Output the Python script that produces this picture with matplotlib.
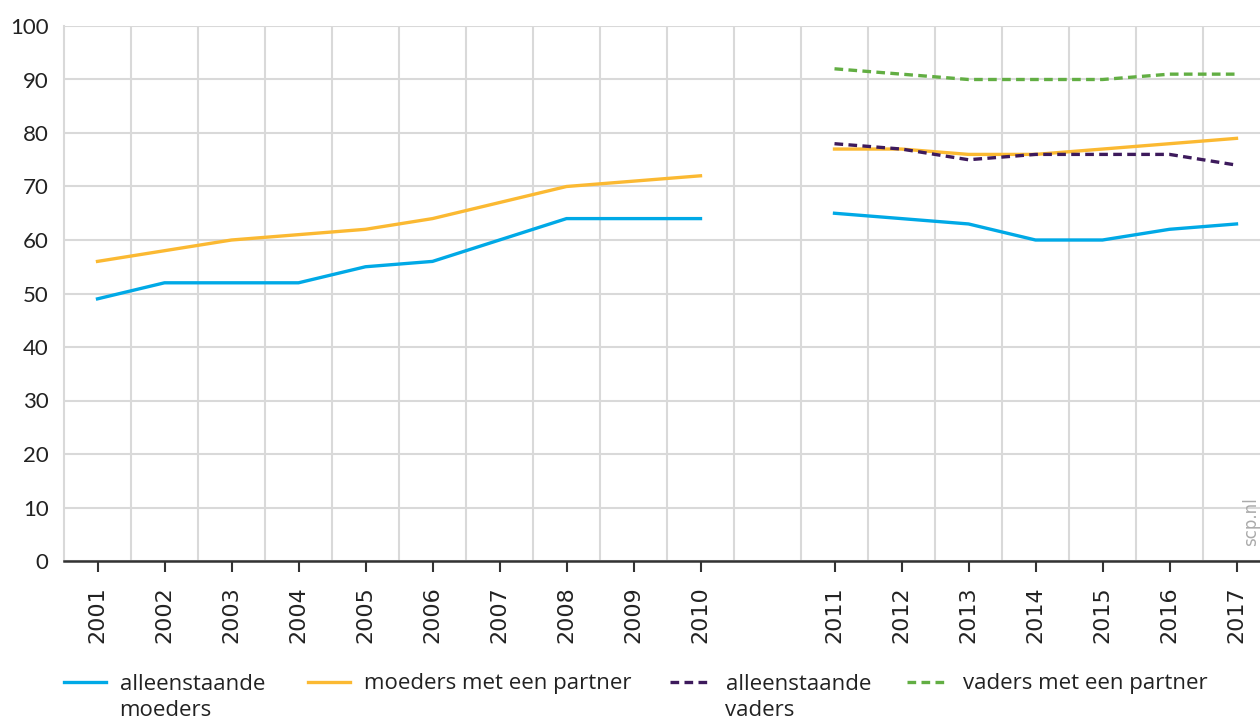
import matplotlib.pyplot as plt
import numpy as np
from matplotlib.lines import Line2D

# data
years_a = [2001, 2002, 2003, 2004, 2005, 2006, 2007, 2008, 2009, 2010]
years_b = [2011, 2012, 2013, 2014, 2015, 2016, 2017]

alleen_moeders_a = [49, 52, 52, 52, 55, 56, 60, 64, 64, 64]
alleen_moeders_b = [65, 64, 63, 60, 60, 62, 63]
moeders_partner_a = [56, 58, 60, 61, 62, 64, 67, 70, 71, 72]
moeders_partner_b = [77, 77, 76, 76, 77, 78, 79]
alleen_vaders_b = [78, 77, 75, 76, 76, 76, 74]
vaders_partner_b = [92, 91, 90, 90, 90, 91, 91]

labels = ['alleenstaande\nmoeders', 'moeders met een partner',
          'alleenstaande\nvaders', 'vaders met een partner']

BLUE = '#00a9e6'
ORANGE = '#fbb932'
PURPLE = '#3d1a5c'
GREEN = '#62ae43'

# category positions, one empty slot between 2010 and 2011
xa = np.arange(len(years_a))
xb = np.arange(len(years_b)) + len(years_a) + 1

W, H = 1260, 723
fig = plt.figure(figsize=(12.6, 7.23), dpi=100)
ax = fig.add_axes([64 / W, 1 - 561 / H, (1270 - 64) / W, (561 - 26) / H])

lw = 2.4
dash = (0, (2.6, 1.6))
ax.plot(xa, alleen_moeders_a, color=BLUE, lw=lw)
ax.plot(xb, alleen_moeders_b, color=BLUE, lw=lw)
ax.plot(xa, moeders_partner_a, color=ORANGE, lw=lw)
ax.plot(xb, moeders_partner_b, color=ORANGE, lw=lw)
ax.plot(xb, alleen_vaders_b, color=PURPLE, lw=lw, linestyle=dash)
ax.plot(xb, vaders_partner_b, color=GREEN, lw=lw, linestyle=dash)

n_slots = len(years_a) + 1 + len(years_b)
ax.set_xlim(-0.5, n_slots - 0.5)
ax.set_ylim(0, 100)

ax.set_xticks(np.concatenate([xa, xb]))
ax.set_xticklabels([str(y) for y in years_a + years_b], rotation=90,
                   fontsize=16, family='DejaVu Sans', color='#222222')
ax.set_xticks(np.arange(n_slots) + 0.5, minor=True)
ax.set_yticks(range(0, 101, 10))
ax.set_yticklabels([str(v) for v in range(0, 101, 10)], fontsize=16,
                   family='Lato', color='#222222')

ax.grid(True, which='minor', axis='x', color='#d9d9d9', lw=1.5)
ax.grid(True, which='major', axis='y', color='#d9d9d9', lw=1.5)
ax.set_axisbelow(True)
ax.tick_params(axis='x', which='major', length=8, width=1.5, color='#333333', pad=10)
ax.tick_params(axis='x', which='minor', length=0)
ax.tick_params(axis='y', length=0, pad=11)

for s in ['top', 'right']:
    ax.spines[s].set_visible(False)
ax.spines['left'].set_color('#d9d9d9')
ax.spines['left'].set_linewidth(1.5)
ax.spines['bottom'].set_color('#333333')
ax.spines['bottom'].set_linewidth(1.8)

fig.text(1251 / W, 1 - 522 / H, 'scp.nl', rotation=90, color='#aaaaaa',
         fontsize=12, ha='center', va='center', family='DejaVu Sans')

# legend: one entry per column, second line of wrapped labels added below
handles = [Line2D([], [], color=BLUE, lw=lw),
           Line2D([], [], color=ORANGE, lw=lw),
           Line2D([], [], color=PURPLE, lw=lw, linestyle=dash),
           Line2D([], [], color=GREEN, lw=lw, linestyle=dash)]
leg_x = [64, 308, 670, 907]
leg_fs = 16
for h, lab, x0 in zip(handles, labels, leg_x):
    parts = lab.split('\n')
    leg = fig.legend([h], [parts[0]], loc='center left',
                     bbox_to_anchor=(x0 / W, 1 - 684 / H), frameon=False,
                     prop={'family': 'Open Sans', 'size': leg_fs},
                     handlelength=1.9, handletextpad=0.6, borderpad=0,
                     borderaxespad=0)
    leg.get_texts()[0].set_color('#222222')
    if len(parts) > 1:
        fig.text((x0 + 55) / W, 1 - 710 / H, parts[1], color='#222222',
                 fontsize=leg_fs, family='Open Sans', va='center', ha='left')

fig.savefig('out.png', dpi=100)
